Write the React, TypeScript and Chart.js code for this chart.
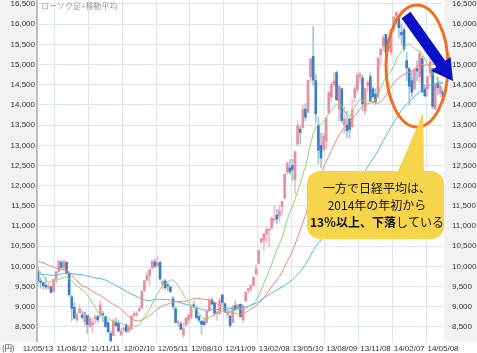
import React, { useEffect, useRef } from "react";
import { Chart, registerables } from "chart.js";
Chart.register(...registerables);

// x-axis tick labels (every 13 weeks)
const TICK_LABELS = [
  "11/05/13", "11/08/12", "11/11/11", "12/02/10", "12/05/11", "12/08/10", "12/11/09",
  "13/02/08", "13/05/10", "13/08/09", "13/11/08", "14/02/07", "14/05/08",
];

// y-axis tick values
const Y_TICKS = [
  8500, 9000, 9500, 10000, 10500, 11000, 11500, 12000, 12500,
  13000, 13500, 14000, 14500, 15000, 15500, 16000, 16500,
];

// weekly closes before the first visible week (used for the moving averages)
const PRIOR_CLOSES = [
  9784, 9762, 9901, 9705, 10046, 9737, 9203, 9585, 9408, 9431, 9537, 9642, 9253, 9179, 8991, 9114,
  9239, 9509, 9471, 9404, 9588, 9500, 9426, 9202, 9625, 9724, 10022, 10039, 10178, 10211, 10303,
  10279, 10228, 10541, 10499, 10274, 10360, 10543, 10605, 10842, 10526, 10693, 10254, 9206, 9536,
  9708, 9768, 9591, 9682, 9850, 9859,
];

const OPEN = [
  9860, 9640, 9600, 9530, 9480, 9490, 9380, 9690, 9880, 10100,
  9960, 10100, 9840, 9250, 8990, 8680, 8850, 8800, 8620, 8780,
  8500, 8550, 8700, 8760, 8780, 8830, 8760, 8600, 8340, 8290,
  8600, 8600, 8300, 8440, 8550, 8400, 8450, 8790, 8800, 8900,
  8970, 9400, 9660, 9770, 9960, 10110, 10010, 10100, 9550, 9640,
  9530, 9490, 9200, 8950, 8590, 8580, 8300, 8550, 8670, 8730,
  9050, 8950, 8760, 8640, 8630, 8610, 8900, 9170, 9100, 8830,
  8840, 9290, 9080, 8810, 8770, 8610, 9030, 8950, 9060, 8680,
  9150, 9400, 9450, 9530, 9820, 10080, 10600, 10650, 10800, 10900,
  10950, 11150, 11270, 11250, 11480, 11700, 12340, 12440, 12500, 12150,
  13030, 13400, 13440, 13900, 13820, 14700, 15200, 14600, 13500, 13000,
  12900, 13100, 13800, 14200, 14500, 14800, 13900, 14400, 13500, 13500,
  13650, 13460, 14180, 14380, 14700, 14670, 13850, 14480, 14700, 14400,
  14270, 14200, 15240, 15450, 15750, 15440, 15300, 15900, 16200, 16150,
  15800, 15860, 15100, 14900, 14600, 14400, 14900, 14700, 15150, 14400,
  14400, 14800, 14900, 13900, 14550, 14290, 14330,
];

const HIGH = [
  9980, 9720, 9620, 9720, 9590, 9530, 9690, 9880, 10140, 10150,
  10140, 10120, 9880, 9290, 9100, 8850, 9050, 8900, 8870, 8800,
  8770, 8700, 8800, 8800, 9150, 8880, 8770, 8650, 8400, 8700,
  8720, 8660, 8460, 8500, 8580, 8520, 8790, 8900, 8880, 9010,
  9400, 9650, 9870, 9930, 10140, 10190, 10260, 10130, 9650, 9690,
  9590, 9510, 9260, 9000, 8680, 8640, 8600, 8740, 8800, 9010,
  9140, 9000, 8790, 8670, 8720, 8900, 9220, 9230, 9110, 8880,
  9230, 9310, 9090, 8900, 8800, 9040, 9150, 9060, 9080, 9050,
  9370, 9460, 9550, 9740, 10040, 10400, 10700, 10820, 11000, 10950,
  11230, 11500, 11420, 11500, 11620, 12300, 12580, 12650, 12650, 12860,
  13600, 13500, 13990, 14030, 14610, 15160, 15940, 14770, 13710, 13300,
  13300, 13680, 14330, 14550, 14810, 14840, 14470, 14400, 13960, 13850,
  13690, 14130, 14470, 14800, 14820, 14750, 14420, 14600, 14800, 14450,
  14400, 15170, 15400, 15730, 15750, 15650, 15870, 16180, 16320, 16160,
  16000, 15920, 15300, 14920, 14830, 14900, 15090, 15330, 15200, 14500,
  14700, 15160, 14900, 14520, 14690, 14530, 14400,
];

const LOW = [
  9580, 9460, 9440, 9430, 9440, 9350, 9380, 9600, 9850, 9900,
  9890, 9800, 9260, 8650, 8710, 8620, 8840, 8700, 8520, 8340,
  8500, 8360, 8580, 8610, 8720, 8630, 8480, 8370, 8130, 8280,
  8520, 8370, 8290, 8390, 8350, 8370, 8440, 8750, 8760, 8880,
  8960, 9380, 9650, 9540, 9940, 9960, 9990, 9660, 9450, 9430,
  9400, 9350, 8950, 8600, 8530, 8430, 8240, 8520, 8580, 8700,
  8980, 8720, 8610, 8330, 8540, 8600, 8880, 9050, 8780, 8660,
  8800, 9050, 8860, 8740, 8490, 8600, 8930, 8910, 8740, 8620,
  9130, 9350, 9380, 9510, 9780, 10060, 10580, 10400, 10590, 10480,
  10900, 11090, 11050, 11100, 11270, 11650, 12270, 12280, 12130, 11800,
  13000, 13040, 13420, 13610, 13810, 14580, 14480, 13550, 12550, 12450,
  12850, 12900, 13780, 14100, 14450, 14100, 13600, 13550, 13300, 13190,
  13190, 13440, 14080, 14300, 14560, 13850, 13750, 14330, 14080, 14180,
  14000, 14170, 14980, 15330, 15160, 15320, 15240, 15800, 16150, 15660,
  15500, 15330, 14600, 13990, 14200, 14360, 14600, 14550, 14300, 14200,
  14200, 14690, 13900, 13880, 14250, 14200, 14050,
];

const CLOSE = [
  9648, 9607, 9521, 9492, 9514, 9351, 9678, 9868, 10137, 9974,
  10132, 9833, 9299, 8963, 8719, 8797, 8950, 8737, 8864, 8560,
  8700, 8605, 8748, 8678, 9050, 8801, 8514, 8374, 8160, 8643,
  8536, 8401, 8395, 8455, 8390, 8500, 8766, 8841, 8831, 8947,
  9384, 9647, 9777, 9929, 10129, 10011, 10083, 9688, 9637, 9470,
  9520, 9380, 9009, 8611, 8593, 8440, 8459, 8721, 8798, 9007,
  9021, 8724, 8669, 8566, 8555, 8891, 9163, 9070, 8839, 8871,
  9159, 9110, 8870, 8863, 8534, 9002, 8933, 9051, 8757, 9024,
  9366, 9446, 9527, 9737, 9940, 10395, 10688, 10801, 10913, 10926,
  11191, 11153, 11173, 11385, 11606, 12283, 12560, 12338, 12397, 12833,
  13485, 13316, 13884, 13694, 14607, 15138, 14612, 13774, 12877, 12686,
  13230, 13677, 14309, 14506, 14589, 14129, 14466, 13615, 13650, 13360,
  13389, 13861, 14404, 14742, 14760, 14024, 14404, 14561, 14088, 14201,
  14086, 15165, 15381, 15661, 15299, 15403, 15870, 16178, 16291, 15912,
  15734, 15391, 14915, 14462, 14313, 14865, 14841, 15274, 14327, 14224,
  14696, 15063, 13960, 14516, 14429, 14458, 14199,
];

const MA_PERIODS = [13, 26, 52];
const MA_COLORS = ["#92d274", "#f5876f", "#55b9e6"];

const UP_BODY = "#e8909f";
const UP_WICK = "#f1bcc5";
const DOWN_BODY = "#3b7ec1";
const DOWN_WICK = "#a3c4e6";
const GRID = "#dde5f4";
const Y_MIN = 8128;
const Y_MAX = 16599;

function movingAverage(n: number): number[] {
  const all = [...PRIOR_CLOSES, ...CLOSE];
  return CLOSE.map((_, i) => {
    const end = PRIOR_CLOSES.length + i;
    let s = 0;
    for (let k = end - n + 1; k <= end; k++) s += all[k];
    return s / n;
  });
}

const AXIS_FONT = { family: "'Liberation Sans', Arial, sans-serif", size: 8 };
const fmt = (v: any) => Number(v).toLocaleString("en-US");

export default function App() {
  const ref = useRef<HTMLCanvasElement>(null);

  useEffect(() => {
    document.body.style.margin = "0";
    const canvas = ref.current;
    if (!canvas) return;

    const labels = CLOSE.map((_, i) => (i % 13 === 0 ? TICK_LABELS[i / 13] : ""));
    const isUp = CLOSE.map((c, i) => c >= OPEN[i]);

    const bgPlugin = {
      id: "bg",
      beforeDraw(chart: any) {
        const { ctx, width, height, chartArea } = chart;
        ctx.save();
        ctx.fillStyle = "#ffffff";
        ctx.fillRect(0, 0, width, height);
        ctx.fillStyle = "#f2f2f2";
        ctx.fillRect(0, 0, chartArea.left, chartArea.bottom);
        ctx.fillRect(chartArea.right + 1, 0, width - chartArea.right - 1, chartArea.bottom);
        ctx.restore();
      },
      afterDatasetsDraw(chart: any) {
        const { ctx, chartArea } = chart;
        ctx.save();
        ctx.fillStyle = "#bdbdbd";
        ctx.fillRect(chartArea.left - 2, 0, 2, chartArea.bottom);
        ctx.fillStyle = "#9a9a9a";
        ctx.font = "8px 'Noto Sans CJK JP', sans-serif";
        ctx.textBaseline = "top";
        ctx.fillText("ローソク足+移動平均", chartArea.left + 3, 2);
        ctx.fillStyle = "#333";
        ctx.font = "7.5px 'Noto Sans CJK JP', sans-serif";
        ctx.textBaseline = "middle";
        ctx.fillText("(円)", 2, 348);
        ctx.restore();
      },
    };

    const notePlugin = {
      id: "note",
      afterDraw(chart: any) {
        const ctx = chart.ctx as CanvasRenderingContext2D;
        ctx.save();
        ctx.beginPath();
        ctx.ellipse(417, 66, 31, 61, 0, 0, Math.PI * 2);
        ctx.strokeStyle = "#f26f21";
        ctx.lineWidth = 3;
        ctx.stroke();

        const tail = [406, 15];
        const tip = [453, 81];
        const dx = tip[0] - tail[0];
        const dy = tip[1] - tail[1];
        const len = Math.hypot(dx, dy);
        const ux = dx / len, uy = dy / len;
        const nx = -uy, ny = ux;
        const sw = 5.5, hw = 12, hl = 21;
        const neck = [tip[0] - ux * hl, tip[1] - uy * hl];
        ctx.beginPath();
        ctx.moveTo(tail[0] + nx * sw, tail[1] + ny * sw);
        ctx.lineTo(neck[0] + nx * sw, neck[1] + ny * sw);
        ctx.lineTo(neck[0] + nx * hw, neck[1] + ny * hw);
        ctx.lineTo(tip[0], tip[1]);
        ctx.lineTo(neck[0] - nx * hw, neck[1] - ny * hw);
        ctx.lineTo(neck[0] - nx * sw, neck[1] - ny * sw);
        ctx.lineTo(tail[0] - nx * sw, tail[1] - ny * sw);
        ctx.closePath();
        ctx.fillStyle = "#0a10c8";
        ctx.fill();

        const x = 307, y = 171, w = 137, h = 68, r = 13;
        ctx.beginPath();
        ctx.moveTo(x + r, y);
        ctx.lineTo(398, y);
        ctx.lineTo(423, 113);
        ctx.lineTo(424, y);
        ctx.lineTo(x + w - r, y);
        ctx.arcTo(x + w, y, x + w, y + r, r);
        ctx.lineTo(x + w, y + h - r);
        ctx.arcTo(x + w, y + h, x + w - r, y + h, r);
        ctx.lineTo(x + r, y + h);
        ctx.arcTo(x, y + h, x, y + h - r, r);
        ctx.lineTo(x, y + r);
        ctx.arcTo(x, y, x + r, y, r);
        ctx.closePath();
        ctx.fillStyle = "#f6d54b";
        ctx.fill();

        const cx = 377;
        const fam = "'Noto Sans CJK JP', sans-serif";
        ctx.fillStyle = "#111";
        ctx.textBaseline = "middle";
        ctx.textAlign = "center";
        ctx.font = `12px ${fam}`;
        ctx.fillText("一方で日経平均は、", cx, 188);
        ctx.fillText("2014年の年初から", cx, 205);
        ctx.textAlign = "left";
        const boldPart = "13％以上、下落";
        const normPart = "している";
        ctx.font = `bold 12px ${fam}`;
        const bw = ctx.measureText(boldPart).width;
        ctx.font = `12px ${fam}`;
        const nw = ctx.measureText(normPart).width;
        const sx = cx - (bw + nw) / 2;
        ctx.font = `bold 12px ${fam}`;
        ctx.fillText(boldPart, sx, 222);
        ctx.font = `12px ${fam}`;
        ctx.fillText(normPart, sx + bw, 222);
        ctx.restore();
      },
    };

    const setYTicks = (s: any) => {
      s.ticks = Y_TICKS.map((v) => ({ value: v }));
    };

    const chart = new Chart(canvas, {
      type: "bar",
      data: {
        labels,
        datasets: [
          ...MA_PERIODS.map((p, k) => ({
            type: "line" as const,
            label: `MA${p}`,
            data: movingAverage(p),
            borderColor: MA_COLORS[k],
            borderWidth: 1,
            pointRadius: 0,
            fill: false,
            tension: 0,
            order: 0,
          })),
          {
            type: "bar" as const,
            label: "body",
            data: OPEN.map((o, i) => [o, CLOSE[i]]),
            backgroundColor: isUp.map((u) => (u ? UP_BODY : DOWN_BODY)),
            barThickness: 2,
            minBarLength: 1,
            grouped: false,
            order: 1,
          },
          {
            type: "bar" as const,
            label: "wick",
            data: LOW.map((l, i) => [l, HIGH[i]]),
            backgroundColor: isUp.map((u) => (u ? UP_WICK : DOWN_WICK)),
            barThickness: 1,
            grouped: false,
            order: 2,
          },
        ] as any,
      },
      options: {
        responsive: false,
        animation: false,
        devicePixelRatio: 1,
        layout: { padding: 0 },
        plugins: { legend: { display: false }, tooltip: { enabled: false } },
        scales: {
          x: {
            type: "category",
            offset: false,
            grid: { color: GRID, lineWidth: 1, drawTicks: false },
            border: { display: false },
            ticks: {
              autoSkip: false,
              maxRotation: 0,
              minRotation: 0,
              padding: 2,
              color: "#333",
              font: AXIS_FONT,
              callback: (_v: any, i: number) => (i % 13 === 0 ? TICK_LABELS[i / 13] : null),
            },
            afterFit: (s: any) => {
              s.height = 11;
              s.paddingLeft = 0;
              s.paddingRight = 0;
            },
          },
          y: {
            type: "linear",
            position: "left",
            bounds: "data",
            min: Y_MIN,
            max: Y_MAX,
            grid: { color: GRID, lineWidth: 1, drawTicks: false },
            border: { display: false },
            afterBuildTicks: setYTicks,
            ticks: {
              autoSkip: false,
              padding: 3,
              color: "#333",
              font: AXIS_FONT,
              callback: fmt,
            },
            afterFit: (s: any) => {
              s.width = 38;
              s.paddingTop = 0;
              s.paddingBottom = 0;
            },
          },
          y2: {
            type: "linear",
            position: "right",
            bounds: "data",
            min: Y_MIN,
            max: Y_MAX,
            grid: { display: false, drawTicks: false },
            border: { display: false },
            afterBuildTicks: setYTicks,
            ticks: {
              autoSkip: false,
              padding: 9,
              color: "#333",
              font: AXIS_FONT,
              callback: fmt,
            },
            afterFit: (s: any) => {
              s.width = 34;
              s.paddingTop = 0;
              s.paddingBottom = 0;
            },
          },
        },
      } as any,
      plugins: [bgPlugin, notePlugin],
    });

    return () => chart.destroy();
  }, []);

  return (
    <div style={{ position: "absolute", left: 0, top: 0, width: 477, height: 353, background: "#fff" }}>
      <canvas ref={ref} width={477} height={353} style={{ display: "block", width: 477, height: 353 }} />
    </div>
  );
}
